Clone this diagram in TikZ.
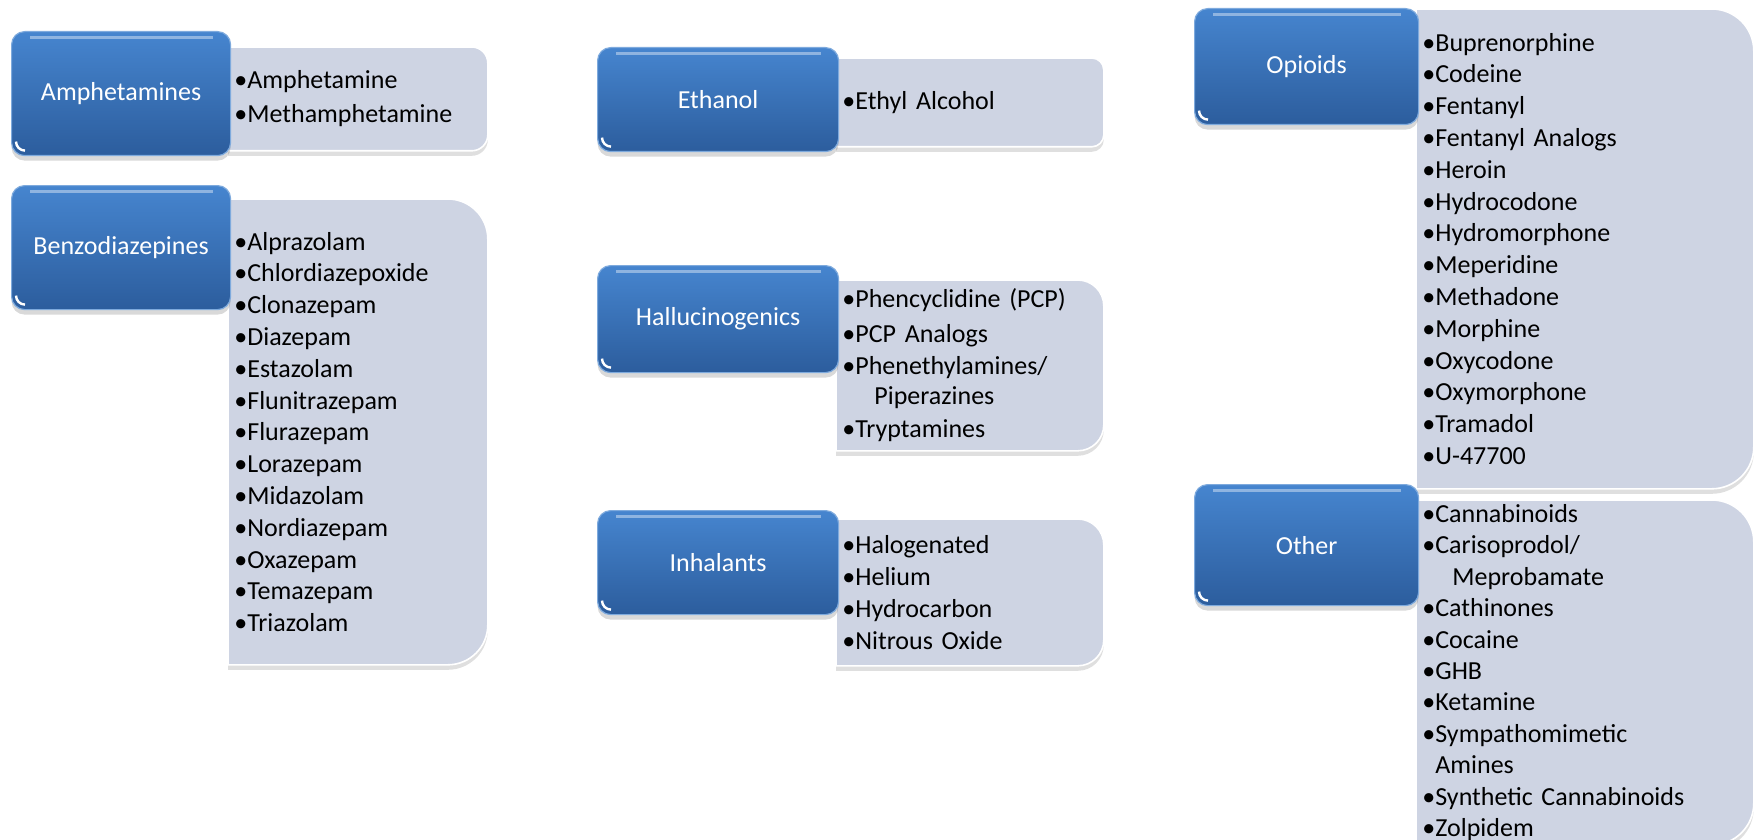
\documentclass[tikz,border=0pt]{standalone}
\usepackage{fontspec}
\setmainfont{Carlito}
\usepackage{xcolor}
\usetikzlibrary{shadows,backgrounds}

\definecolor{headtop}{RGB}{70,133,207}
\definecolor{headbot}{RGB}{44,93,157}
\definecolor{listgrey}{RGB}{206,212,227}

% grey panel behind a list node: square left side, rounded right side
\newcommand{\listshape}[2]{%
  \fill[listbg] (#1.north west) -- ([xshift=-#2]#1.north east)
    arc[start angle=90, end angle=0, radius=#2] -- ([yshift=#2]#1.south east)
    arc[start angle=0, end angle=-90, radius=#2] -- (#1.south west) -- cycle;}

\begin{document}
\begin{tikzpicture}[x=0.5pt,y=-0.5pt,
    head/.style={rectangle, rounded corners=6.5pt, anchor=north west,
      top color=headtop, bottom color=headbot, draw=headtop!70!white, line width=0.6pt,
      text=white, font=\fontsize{13}{15.9}\selectfont,
      drop shadow={opacity=0.3, shadow xshift=0pt, shadow yshift=-2.5pt},
      path picture={
        \fill[white,opacity=0.4,sharp corners] ([xshift=9pt,yshift=-2pt]path picture bounding box.north west)
          rectangle ([xshift=-9pt,yshift=-3.8pt]path picture bounding box.north east);
        \draw[white,line width=1.2pt,sharp corners] ([xshift=2.2pt,yshift=7pt]path picture bounding box.south west)
          arc[start angle=180, end angle=270, radius=4.5pt];}},
    list/.style={rectangle, anchor=north west, inner xsep=3pt, align=left,
      font=\fontsize{13}{15.9}\selectfont},
    listbg/.style={fill=listgrey, draw=white, line width=0.8pt,
      drop shadow={opacity=0.25, shadow xshift=0pt, shadow yshift=-2.5pt}}]

\useasboundingbox (0,0) rectangle (1756,840);

% first column
\node[list, minimum width=129.5pt, text width=123.5pt, minimum height=51.5pt] (amphList) at (228,47)
  {•Amphetamine\\[1.1pt]•Methamphetamine};
\node[list, minimum width=129.5pt, text width=123.5pt, minimum height=232.5pt] (benzoList) at (228,199)
  {•Alprazolam\\•Chlordiazepoxide\\•Clonazepam\\•Diazepam\\•Estazolam\\•Flunitrazepam\\•Flurazepam\\
   •Lorazepam\\•Midazolam\\•Nordiazepam\\•Oxazepam\\•Temazepam\\•Triazolam};
\node[head, minimum width=109.5pt, minimum height=62pt] (amphHead) at (11,31) {Amphetamines};
\node[head, minimum width=109.5pt, minimum height=62pt] (benzoHead) at (11,185) {Benzodiazepines};

% second column
\node[list, minimum width=133.5pt, text width=127.5pt, minimum height=44pt] (ethList) at (836,58)
  {•Ethyl Alcohol};
\node[list, minimum width=133.5pt, text width=127.5pt, minimum height=85pt] (halList) at (836,280)
  {•Phencyclidine (PCP)\\[1.6pt]•PCP Analogs\\[0.1pt]•Phenethylamines/\\[-0.9pt]\hspace*{16pt}Piperazines\\[0.6pt]•Tryptamines};
\node[list, minimum width=133.5pt, text width=127.5pt, minimum height=73pt] (inhList) at (836,519)
  {•Halogenated\\•Helium\\•Hydrocarbon\\•Nitrous Oxide};
\node[head, minimum width=120.5pt, minimum height=52pt] (ethHead) at (597,47) {Ethanol};
\node[head, minimum width=120.5pt, minimum height=53.5pt] (halHead) at (597,265) {Hallucinogenics};
\node[head, minimum width=120.5pt, minimum height=52pt] (inhHead) at (597,510) {Inhalants};

% third column
\node[list, minimum width=168.5pt, text width=162.5pt, minimum height=239.5pt] (opiList) at (1416,9)
  {•Buprenorphine\\•Codeine\\•Fentanyl\\•Fentanyl Analogs\\•Heroin\\•Hydrocodone\\•Hydromorphone\\
   •Meperidine\\•Methadone\\•Morphine\\•Oxycodone\\•Oxymorphone\\•Tramadol\\•U-47700};
\node[list, minimum width=168.5pt, text width=162.5pt, minimum height=170pt, inner ysep=2pt,
      font=\fontsize{13}{15.7}\selectfont] (othList) at (1416,500)
  {•Cannabinoids\\•Carisoprodol/\\\hspace*{15pt}Meprobamate\\•Cathinones\\•Cocaine\\•GHB\\•Ketamine\\
   •Sympathomimetic\\\phantom{•}Amines\\•Synthetic Cannabinoids\\•Zolpidem};
\node[head, minimum width=112pt, minimum height=58pt] (opiHead) at (1194,8) {Opioids};
\node[head, minimum width=112pt, minimum height=60.5pt] (othHead) at (1194,484) {Other};

\begin{scope}[on background layer]
  \listshape{amphList}{8pt}
  \listshape{benzoList}{20pt}
  \listshape{ethList}{6pt}
  \listshape{halList}{13pt}
  \listshape{inhList}{13pt}
  \listshape{opiList}{21pt}
  \listshape{othList}{21pt}
\end{scope}
\end{tikzpicture}
\end{document}
